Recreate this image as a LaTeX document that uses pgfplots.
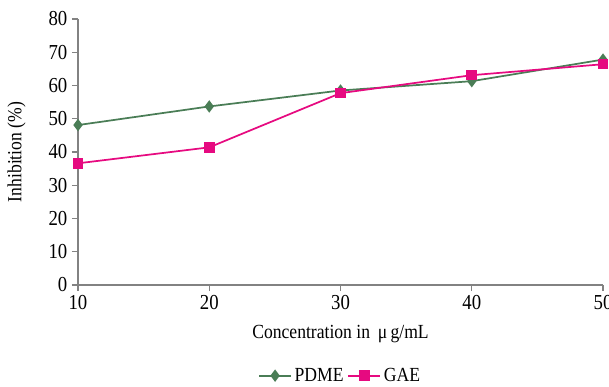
\documentclass[border=0pt]{standalone}
\usepackage{fontspec}
\setmainfont[FakeStretch=0.88]{Liberation Serif}
\usepackage{pgfplots}
\pgfplotsset{compat=1.18}
\definecolor{pdme}{RGB}{74,125,86}
\definecolor{gae}{RGB}{230,10,128}
\definecolor{axgray}{RGB}{130,130,130}
\begin{document}
\begin{tikzpicture}
\begin{axis}[
  at={(0,0)}, anchor=origin,
  scale only axis,
  width=393.75pt, height=199.5pt,
  xmin=10, xmax=50, ymin=0, ymax=80,
  xtick={10,20,30,40,50}, ytick={0,10,...,80},
  axis lines*=left,
  axis line style={axgray, line width=0.8pt},
  tick style={axgray, line width=0.8pt},
  tick align=outside, major tick length=4.5pt,
  every tick label/.style={font=\fontsize{16}{18}\selectfont},
  /pgf/number format/assume math mode=true,
  xlabel={Concentration in \,μ\,g/mL},
  ylabel={Inhibition (\%)},
  xlabel style={font=\fontsize{15}{17}\selectfont, at={(axis description cs:0.5,0)}, anchor=base, yshift=-40pt},
  ylabel style={font=\fontsize{15}{17}\selectfont, at={(axis description cs:0,0.5)}, anchor=center, yshift=46pt},
  legend style={draw=none, at={(axis description cs:0.5,0)}, anchor=center, yshift=-68pt,
    font=\fontsize{15}{17}\selectfont, column sep=0pt, inner sep=0pt,
    /tikz/every even column/.append style={column sep=1pt}},
  legend columns=2,
  legend image code/.code={\draw[#1] (0pt,0pt) -- (24pt,0pt); \draw[#1, mark repeat=1] plot coordinates {(12pt,0pt)};},
  clip=false,
]
\addplot[pdme, line width=1.3pt, mark=diamond*, mark size=3.6pt, mark options={solid}]
  coordinates {(10,48.1) (20,53.7) (30,58.5) (40,61.3) (50,67.8)};
\addlegendentry{PDME}
\addplot[gae, line width=1.3pt, mark=square*, mark size=3.3pt]
  coordinates {(10,36.6) (20,41.4) (30,57.7) (40,63.1) (50,66.4)};
\addlegendentry{GAE}
\end{axis}
\pgfresetboundingbox
\useasboundingbox (-58.5pt,-75.75pt) rectangle (398.25pt,213.75pt);
\end{tikzpicture}
\end{document}
